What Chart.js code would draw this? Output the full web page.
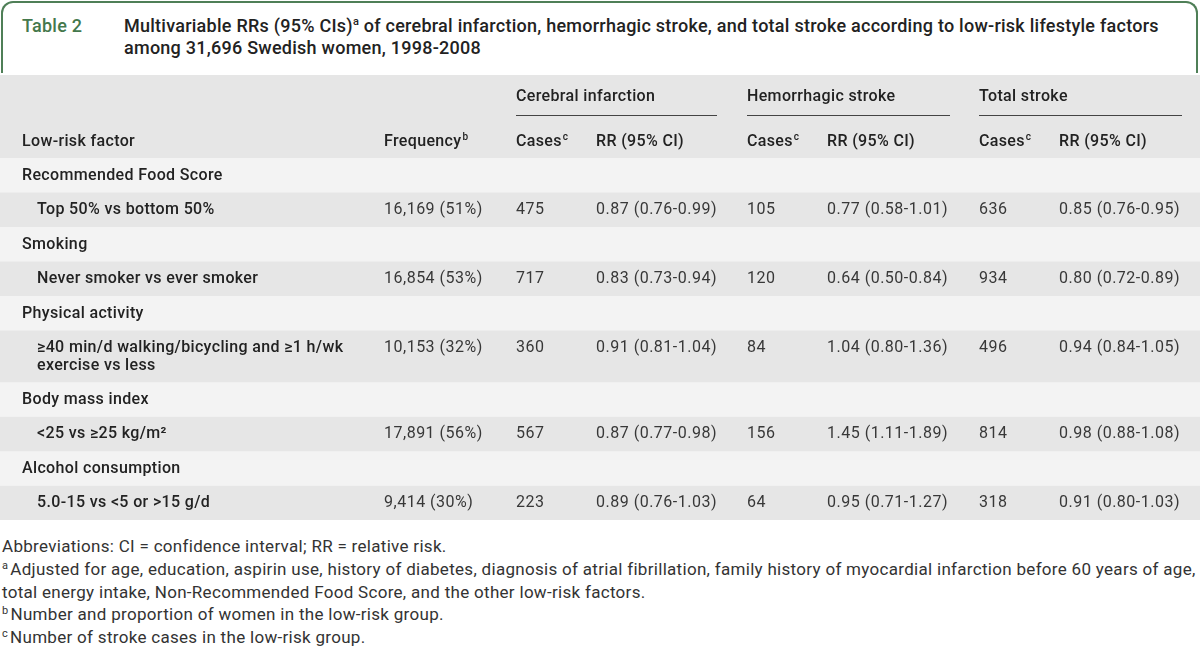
<!DOCTYPE html>
<html>
<head>
<meta charset="utf-8">
<script src="https://cdn.jsdelivr.net/npm/chart.js@4/dist/chart.umd.min.js"></script>
<style>
  html, body { margin: 0; padding: 0; background: #fff; }
  body { width: 1200px; height: 647px; position: relative; overflow: hidden; font-family: Roboto, 'Liberation Sans', sans-serif; }
  .caption {
    position: absolute; left: 1px; top: 1px; width: 1193px; height: 70px;
    border: 2px solid #4f7f57; border-bottom: none; border-radius: 12px 12px 0 0;
  }
  .caption .num { position: absolute; left: 19px; top: 12px; color: #44784c; font-size: 18px; font-weight: 500; line-height: 22px; letter-spacing: 0.25px; }
  .caption .text { position: absolute; left: 121px; top: 12px; width: 1070px; color: #222; font-size: 18px; font-weight: 500; line-height: 22px; letter-spacing: 0.25px; white-space: nowrap; }
  sup { font-size: 11px; line-height: 0; vertical-align: 7px; }
  .table-wrap { position: absolute; left: 0; top: 75px; width: 1200px; height: 445px; }
  .notes { position: absolute; left: 2px; top: 535px; width: 1198px; color: #333; font-size: 17px; line-height: 22.8px; letter-spacing: 0.3px; white-space: nowrap; }
  .notes sup { font-size: 11px; vertical-align: 6px; margin-right: 2px; }
</style>
</head>
<body>
<div class="caption">
  <div class="num">Table 2</div>
  <div class="text">Multivariable RRs (95% CIs)<sup>a</sup> of cerebral infarction, hemorrhagic stroke, and total stroke according to low-risk lifestyle factors<br>among 31,696 Swedish women, 1998-2008</div>
</div>
<div class="table-wrap"><canvas id="table-chart"></canvas></div>
<div class="notes">
  <div>Abbreviations: CI = confidence interval; RR = relative risk.</div>
  <div><sup>a</sup>Adjusted for age, education, aspirin use, history of diabetes, diagnosis of atrial fibrillation, family history of myocardial infarction before 60 years of age,</div>
  <div>total energy intake, Non-Recommended Food Score, and the other low-risk factors.</div>
  <div><sup>b</sup>Number and proportion of women in the low-risk group.</div>
  <div><sup>c</sup>Number of stroke cases in the low-risk group.</div>
</div>
<script>
// table content
const outcomes = ['Cerebral infarction', 'Hemorrhagic stroke', 'Total stroke'];
const colHeads = ['Low-risk factor', 'Frequency', 'Cases', 'RR (95% CI)', 'Cases', 'RR (95% CI)', 'Cases', 'RR (95% CI)'];
const colHeadMarks = ['', 'b', 'c', '', 'c', '', 'c', ''];

const factorGroups = ['Recommended Food Score', 'Smoking', 'Physical activity', 'Body mass index', 'Alcohol consumption'];
const contrasts = [
  'Top 50% vs bottom 50%',
  'Never smoker vs ever smoker',
  '≥40 min/d walking/bicycling and ≥1 h/wk\nexercise vs less',
  '<25 vs ≥25 kg/m²',
  '5.0-15 vs <5 or >15 g/d'
];
const frequency = ['16,169 (51%)', '16,854 (53%)', '10,153 (32%)', '17,891 (56%)', '9,414 (30%)'];
const ciCases = [475, 717, 360, 567, 223];
const ciRR = ['0.87 (0.76-0.99)', '0.83 (0.73-0.94)', '0.91 (0.81-1.04)', '0.87 (0.77-0.98)', '0.89 (0.76-1.03)'];
const hsCases = [105, 120, 84, 156, 64];
const hsRR = ['0.77 (0.58-1.01)', '0.64 (0.50-0.84)', '1.04 (0.80-1.36)', '1.45 (1.11-1.89)', '0.95 (0.71-1.27)'];
const tsCases = [636, 934, 496, 814, 318];
const tsRR = ['0.85 (0.76-0.95)', '0.80 (0.72-0.89)', '0.94 (0.84-1.05)', '0.98 (0.88-1.08)', '0.91 (0.80-1.03)'];

// layout (pixels across, row units down)
const COL_X = [22, 384, 516, 596, 747, 827, 979, 1059];
const INDENT = 15;
const RULES = [[516, 717], [747, 950], [979, 1182]];
const HEADER_UNITS = 2.4;
const LINE_UNITS = 0.52;
const DARK = '#e6e6e6';
const LIGHT = '#f3f3f3';
const FONT = 'Roboto, "Liberation Sans", sans-serif';

// build the row bands from the content
const rows = [];
let pos = HEADER_UNITS;
factorGroups.forEach((g, i) => {
  rows.push({ start: pos, end: pos + 1, kind: 'group', index: i });
  pos += 1;
  const lines = contrasts[i].split('\n').length;
  const span = 1 + (lines - 1) * 0.5;
  rows.push({ start: pos, end: pos + span, kind: 'contrast', index: i });
  pos += span;
});
const totalUnits = pos;

const bands = [{ start: 0, end: HEADER_UNITS, color: DARK }].concat(
  rows.map(r => ({ start: r.start, end: r.end, color: r.kind === 'group' ? LIGHT : DARK }))
);

function setFont(ctx, weight, size, spacing) {
  ctx.font = weight + ' ' + size + 'px ' + FONT;
  ctx.letterSpacing = spacing + 'px';
}

function drawMarked(ctx, text, mark, x, y) {
  setFont(ctx, '500', 16, 0.35);
  ctx.fillText(text, x, y);
  if (!mark) return;
  const w = ctx.measureText(text).width;
  setFont(ctx, '500', 10, 0);
  ctx.fillText(mark, x + w + 1, y - 5);
}

const tableText = {
  id: 'tableText',
  afterDatasetsDraw(chart) {
    const ctx = chart.ctx;
    const y = chart.scales.y;
    const left = chart.chartArea.left;
    ctx.save();
    ctx.textBaseline = 'middle';
    ctx.textAlign = 'left';

    // header
    ctx.fillStyle = '#222';
    outcomes.forEach((o, i) => {
      setFont(ctx, '500', 16, 0.35);
      ctx.fillText(o, left + RULES[i][0], y.getPixelForValue(0.64));
    });
    ctx.strokeStyle = '#444';
    ctx.lineWidth = 1;
    RULES.forEach(r => {
      const ry = Math.round(y.getPixelForValue(1.17)) + 0.5;
      ctx.beginPath();
      ctx.moveTo(left + r[0], ry);
      ctx.lineTo(left + r[1], ry);
      ctx.stroke();
    });
    colHeads.forEach((h, i) => {
      drawMarked(ctx, h, colHeadMarks[i], left + COL_X[i], y.getPixelForValue(1.95));
    });

    // body
    rows.forEach(r => {
      const ty = y.getPixelForValue(r.start + 0.52);
      const i = r.index;
      ctx.fillStyle = '#222';
      setFont(ctx, '500', 16, 0.35);
      if (r.kind === 'group') {
        ctx.fillText(factorGroups[i], left + COL_X[0], ty);
        return;
      }
      contrasts[i].split('\n').forEach((line, k) => {
        ctx.fillText(line, left + COL_X[0] + INDENT, y.getPixelForValue(r.start + 0.52 + k * LINE_UNITS));
      });
      ctx.fillStyle = '#383838';
      setFont(ctx, '400', 16, 0.5);
      const cells = [frequency[i], ciCases[i], ciRR[i], hsCases[i], hsRR[i], tsCases[i], tsRR[i]];
      cells.forEach((c, k) => ctx.fillText(String(c), left + COL_X[k + 1], ty));
    });
    ctx.restore();
  }
};

new Chart(document.getElementById('table-chart'), {
  type: 'bar',
  data: {
    labels: ['table'],
    datasets: bands.map(b => ({
      data: [[b.start, b.end]],
      backgroundColor: b.color,
      borderWidth: 0,
      grouped: false,
      barPercentage: 1,
      categoryPercentage: 1
    }))
  },
  options: {
    responsive: true,
    maintainAspectRatio: false,
    animation: false,
    events: [],
    layout: { padding: 0 },
    plugins: { legend: { display: false }, tooltip: { enabled: false } },
    scales: {
      x: { display: false },
      y: { display: false, reverse: true, min: 0, max: totalUnits }
    }
  },
  plugins: [tableText]
});
</script>
</body>
</html>
